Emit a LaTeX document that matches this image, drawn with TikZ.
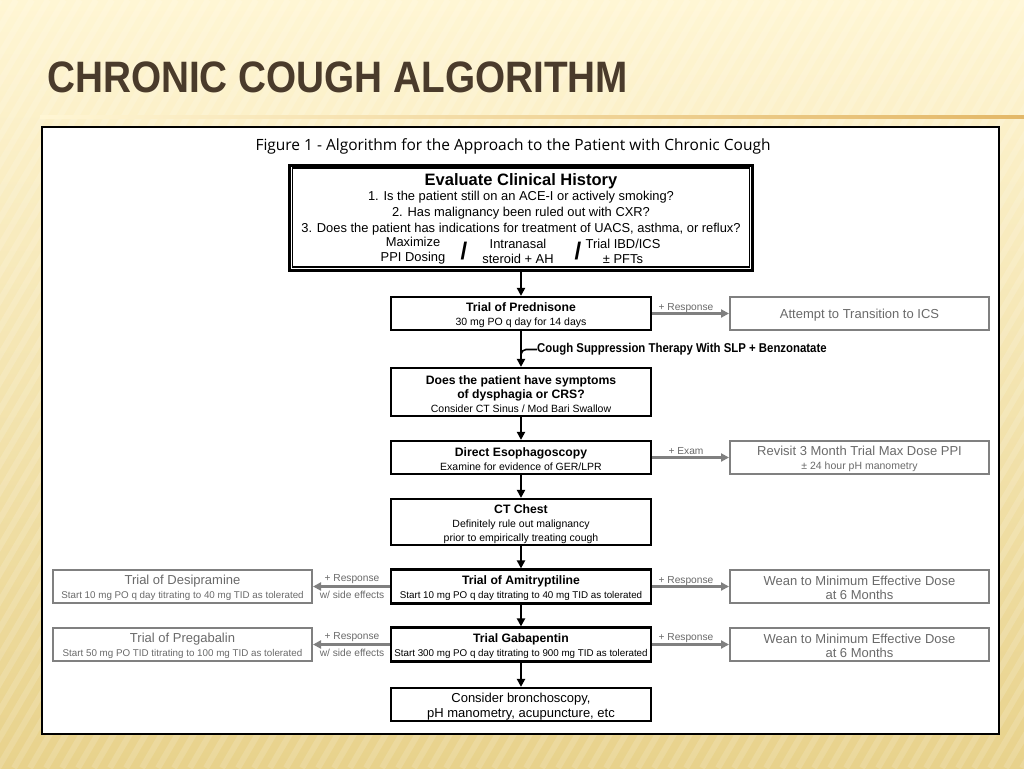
\documentclass[tikz,border=0pt]{standalone}
\usepackage{fontspec}
\usepackage{graphicx}
\setmainfont{Liberation Sans}
\newfontfamily\capfont{Open Sans}
\usetikzlibrary{arrows.meta}
\definecolor{bgtop}{HTML}{FFF6D4}
\definecolor{bgbot}{HTML}{E8D28C}
\definecolor{titlec}{HTML}{4A3B2B}
\definecolor{goldc}{HTML}{E3B868}
\definecolor{grayc}{HTML}{808080}
\definecolor{graytxt}{HTML}{6A6A6A}
\newcommand\fT{\fontsize{12.2}{14}\selectfont\bfseries}
\newcommand\fS{\fontsize{10.5}{14}\selectfont}
\newcommand\fSS{\fontsize{9.8}{14}\selectfont}
\newcommand\fG{\fontsize{13}{14}\selectfont}
\newcommand\fL{\fontsize{10.2}{11}\selectfont}
\newcommand\fQ{\fontsize{12.9}{15}\selectfont}
\newcommand\up{\rule{0pt}{13pt}}
\begin{document}
\begin{tikzpicture}[x=1pt,y=-1pt,
  mainbox/.style={draw=black, line width=2.2pt, minimum width=260pt, inner sep=0pt, align=center, fill=white, font=\fS},
  graybox/.style={draw=grayc, line width=2pt, minimum width=259pt, minimum height=33pt, inner sep=0pt, align=center, text=graytxt, fill=white, font=\fS},
  blackarrow/.style={-{Triangle[width=8pt,length=8pt]}, line width=2.4pt, draw=black},
  grayarrow/.style={-{Triangle[width=8pt,length=8pt]}, line width=2.4pt, draw=grayc},
  lab/.style={font=\fL, text=graytxt, inner sep=0pt},
  qline/.style={font=\fQ, inner sep=0pt, align=center}
]
\useasboundingbox (0,0) rectangle (1024,768);
% background
\shade[top color=bgtop, bottom color=bgbot] (0,0) rectangle (1024,768);
\begin{scope}
\clip (0,0) rectangle (1024,768);
\foreach \i in {0,16,...,1500} \draw[white, opacity=0.15, line width=6pt] (\i-450,768) -- (\i,0);
\end{scope}
\shade[left color=bgtop, right color=goldc] (40,115.5) rectangle (1024,118.5);
% title
\node[anchor=base west, inner sep=0pt, text=titlec] (title) at (47,92)
  {\scalebox{0.88}[1]{\fontsize{44}{44}\selectfont\bfseries CHRONIC COUGH ALGORITHM}};
% panel
\draw[line width=1.4pt, fill=white] (42,127) rectangle (999,734);
% caption
\node[inner sep=0pt, font=\capfont\fontsize{15.5}{17}\selectfont] (cap) at (513,146)
  {Figure 1 - Algorithm for the Approach to the Patient with Chronic Cough};
% top box
\node[draw=black, line width=3pt, minimum width=463pt, minimum height=105pt, inner sep=0pt] (hist) at (521,217.5) {};
\draw[line width=1.2pt] ([shift={(4.5,4.5)}]hist.north west) rectangle ([shift={(-4.5,-4.5)}]hist.south east);
\node[inner sep=0pt, font=\fontsize{16.5}{18}\selectfont\bfseries] (h0) at (521,181.5) {Evaluate Clinical History};
\node[qline] (h1) at (521,197.5) {1. Is the patient still on an ACE-I or actively smoking?};
\node[qline] (h2) at (521,213.5) {2. Has malignancy been ruled out with CXR?};
\node[qline] (h3) at (521,229.5) {3. Does the patient has indications for treatment of UACS, asthma, or reflux?};
\node[qline] (m1) at (413,251) {Maximize\\PPI Dosing};
\node[qline] (m2) at (518,251) {Intranasal\\steroid + AH};
\node[qline] (m3) at (623,251) {Trial IBD/ICS\\± PFTs};
\node[inner sep=0pt, font=\fontsize{24}{24}\selectfont\bfseries] (s1) at (464,251) {/};
\node[inner sep=0pt, font=\fontsize{24}{24}\selectfont\bfseries] (s2) at (578,251) {/};
% main column
\node[mainbox, minimum height=33pt] (pred) at (521,313.5) {{\up\fT Trial of Prednisone}\\{\fS 30 mg PO q day for 14 days}};
\node[mainbox, minimum height=48pt] (dys) at (521,392) {{\up\fT Does the patient have symptoms}\\{\fT of dysphagia or CRS?}\\{\fS Consider CT Sinus / Mod Bari Swallow}};
\node[mainbox, minimum height=33pt] (eso) at (521,457.5) {{\up\fT Direct Esophagoscopy}\\{\fS Examine for evidence of GER/LPR}};
\node[mainbox, minimum height=46pt] (ct) at (521,522) {{\up\fT CT Chest}\\{\fS Definitely rule out malignancy}\\{\fS prior to empirically treating cough}};
\node[mainbox, minimum height=34pt] (ami) at (521,586.5) {{\up\fT Trial of Amitryptiline}\\{\fSS Start 10 mg PO q day titrating to 40 mg TID as tolerated}};
\node[mainbox, minimum height=34pt] (gab) at (521,644.5) {{\up\fT Trial Gabapentin}\\{\fSS Start 300 mg PO q day titrating to 900 mg TID as tolerated}};
\node[mainbox, minimum height=33pt, font=\fontsize{13}{15}\selectfont] (bot) at (521,704.5) {\up Consider bronchoscopy,\\pH manometry, acupuncture, etc};
% right gray boxes
\node[graybox] (att) at (859.5,313.5) {{\up\fG Attempt to Transition to ICS}};
\node[graybox] (rev) at (859.5,457.5) {{\up\fG Revisit 3 Month Trial Max Dose PPI}\\{\fS ± 24 hour pH manometry}};
\node[graybox] (wean1) at (859.5,586.5) {{\up\fG Wean to Minimum Effective Dose}\\{\fG at 6 Months}};
\node[graybox] (wean2) at (859.5,644.5) {{\up\fG Wean to Minimum Effective Dose}\\{\fG at 6 Months}};
% left gray boxes
\node[graybox] (des) at (182.5,586.5) {{\up\fG Trial of Desipramine}\\{\fSS Start 10 mg PO q day titrating to 40 mg TID as tolerated}};
\node[graybox] (preg) at (182.5,644.5) {{\up\fG Trial of Pregabalin}\\{\fSS Start 50 mg PO TID titrating to 100 mg TID as tolerated}};
% black arrows
\draw[blackarrow] (hist) -- (pred);
\draw[blackarrow] (pred) -- (dys);
\draw[blackarrow] (dys) -- (eso);
\draw[blackarrow] (eso) -- (ct);
\draw[blackarrow] (ct) -- (ami);
\draw[blackarrow] (ami) -- (gab);
\draw[blackarrow] (gab) -- (bot);
% cough suppression branch
\node[anchor=west, inner sep=0pt] (cst) at (537,349.5)
  {\scalebox{0.89}[1]{\fontsize{12.8}{14}\selectfont\bfseries Cough Suppression Therapy With SLP + Benzonatate}};
\coordinate (cj) at (521,358);
\draw[line width=1.6pt, rounded corners=5pt] (cj) |- (cst.west);
% gray arrows
\draw[grayarrow] (pred) -- (att);
\draw[grayarrow] (eso) -- (rev);
\draw[grayarrow] (ami) -- (wean1);
\draw[grayarrow] (gab) -- (wean2);
\draw[grayarrow] (ami) -- (des);
\draw[grayarrow] (gab) -- (preg);
% labels
\node[lab] (l1) at (686,308) {+ Response};
\node[lab] (l2) at (686,451.5) {+ Exam};
\node[lab] (l3) at (686,581) {+ Response};
\node[lab] (l4) at (686,638.5) {+ Response};
\node[lab] (l5) at (352,579.5) {+ Response};
\node[lab] (l6) at (352,594.5) {w/ side effects};
\node[lab] (l7) at (352,637.5) {+ Response};
\node[lab] (l8) at (352,652.5) {w/ side effects};
\end{tikzpicture}
\end{document}
